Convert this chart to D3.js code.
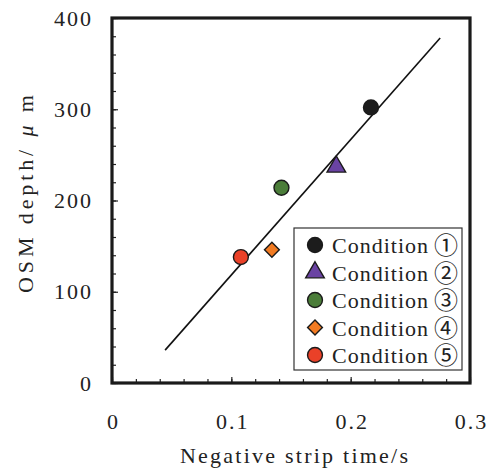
<!DOCTYPE html>
<meta charset="utf-8">
<style>
    body { margin: 0; background: #fff; }
    text { font-family: "Liberation Serif", "DejaVu Serif", serif; fill: #222; }
    .axis text { font-size: 22px; letter-spacing: 2px; }
    .axis line { stroke: #222; stroke-width: 1.2px; }
    .circled { font-family: "Noto Sans CJK JP", "Noto Sans CJK SC", serif; font-weight: 400; }
</style>
<svg width="492" height="472"></svg>
<script src="https://d3js.org/d3.v7.min.js"></script>
<script>

    // data
    var conditions = ["Condition", "Condition", "Condition", "Condition", "Condition"];
    var marks = ["\u2460", "\u2461", "\u2462", "\u2463", "\u2464"];
    var stripTime = [0.217, 0.188, 0.142, 0.134, 0.108];
    var osmDepth = [302, 237, 214, 146, 138];
    var shapes = ["circle", "triangle", "circle", "diamond", "circle"];
    var colors = ["#1c1c1c", "#6a43a3", "#4b7d39", "#f27b22", "#ea4128"];
    var fitX = [0.0445, 0.275];
    var fitY = [36, 378];
    var xTicks = [0, 0.1, 0.2, 0.3];
    var yTicks = [0, 100, 200, 300, 400];

    var svg = d3.select("svg");
    var pLeft = 112, pRight = 470, pTop = 18, pBottom = 383;

    var x = d3.scaleLinear().domain([0, 0.3]).range([pLeft, pRight]);
    var y = d3.scaleLinear().domain([0, 400]).range([pBottom, pTop]);

    // minor ticks
    svg.append("g").attr("class", "axis")
        .attr("transform", "translate(0," + pBottom + ")")
        .call(d3.axisBottom(x).tickValues(d3.range(0, 0.3001, 0.02)).tickSize(-4).tickFormat(""))
        .select(".domain").remove();
    svg.append("g").attr("class", "axis")
        .attr("transform", "translate(" + pLeft + ",0)")
        .call(d3.axisLeft(y).tickValues(d3.range(0, 401, 20)).tickSize(-4).tickFormat(""))
        .select(".domain").remove();

    // major ticks with labels
    var xAxisG = svg.append("g").attr("class", "axis")
        .attr("transform", "translate(0," + pBottom + ")")
        .call(d3.axisBottom(x).tickValues(xTicks).tickSize(-6).tickPadding(30)
            .tickFormat(function (d) { return d === 0 ? "0" : d3.format(".1f")(d); }));
    xAxisG.select(".domain").remove();
    xAxisG.selectAll("text").attr("fill", "#222").attr("dx", "1px");

    var yAxisG = svg.append("g").attr("class", "axis")
        .attr("transform", "translate(" + pLeft + ",0)")
        .call(d3.axisLeft(y).tickValues(yTicks).tickSize(-6).tickPadding(19));
    yAxisG.select(".domain").remove();
    yAxisG.selectAll("text").attr("fill", "#222");

    // frame
    svg.append("rect")
        .attr("x", pLeft).attr("y", pTop)
        .attr("width", pRight - pLeft).attr("height", pBottom - pTop)
        .attr("fill", "none").attr("stroke", "#1a1a1a").attr("stroke-width", 3.2);

    // fit line
    svg.append("line")
        .attr("x1", x(fitX[0])).attr("y1", y(fitY[0]))
        .attr("x2", x(fitX[1])).attr("y2", y(fitY[1]))
        .attr("stroke", "#111").attr("stroke-width", 1.6);

    function symbolFor(s) {
        if (s === "triangle") return d3.symbol().type(d3.symbolTriangle).size(150)();
        if (s === "diamond") return d3.symbol().type(d3.symbolSquare).size(110)();
        return d3.symbol().type(d3.symbolCircle).size(175)();
    }
    function rotFor(s) { return s === "diamond" ? " rotate(45)" : ""; }

    // points
    svg.append("g").selectAll("path")
        .data(conditions)
        .enter().append("path")
        .attr("d", function (d, i) { return symbolFor(shapes[i]); })
        .attr("transform", function (d, i) {
            return "translate(" + x(stripTime[i]) + "," + y(osmDepth[i]) + ")" + rotFor(shapes[i]);
        })
        .attr("fill", function (d, i) { return colors[i]; })
        .attr("stroke", "#1a1a1a").attr("stroke-width", 1.4);

    // legend
    var lg = svg.append("g");
    lg.append("rect").attr("x", 294).attr("y", 228).attr("width", 168).attr("height", 142)
        .attr("fill", "#fff").attr("stroke", "#333").attr("stroke-width", 1.2);
    var row = lg.selectAll("g.row").data(conditions).enter().append("g")
        .attr("class", "row")
        .attr("transform", function (d, i) { return "translate(315," + (245 + i * 27.5) + ")"; });
    row.append("path")
        .attr("d", function (d, i) { return symbolFor(shapes[i]); })
        .attr("transform", function (d, i) { return rotFor(shapes[i]).trim(); })
        .attr("fill", function (d, i) { return colors[i]; })
        .attr("stroke", "#1a1a1a").attr("stroke-width", 1.4);
    row.append("text")
        .attr("x", 17).attr("y", 8)
        .attr("font-size", 22)
        .attr("textLength", 96).attr("lengthAdjust", "spacing")
        .text(function (d) { return d; });
    row.append("text")
        .attr("class", "circled")
        .attr("x", 119).attr("y", 9)
        .attr("font-size", 24)
        .text(function (d, i) { return marks[i]; });

    // axis titles
    svg.append("text")
        .attr("x", 294).attr("y", 463)
        .attr("text-anchor", "middle").attr("font-size", 22)
        .attr("textLength", 228).attr("lengthAdjust", "spacing")
        .text("Negative strip time/s");

    var yt = svg.append("text")
        .attr("transform", "translate(33,194) rotate(-90)")
        .attr("text-anchor", "middle").attr("font-size", 22)
        .attr("textLength", 198).attr("lengthAdjust", "spacing");
    yt.append("tspan").text("OSM depth/ ");
    yt.append("tspan").attr("font-style", "italic").text("\u03bc");
    yt.append("tspan").text(" m");

</script>
